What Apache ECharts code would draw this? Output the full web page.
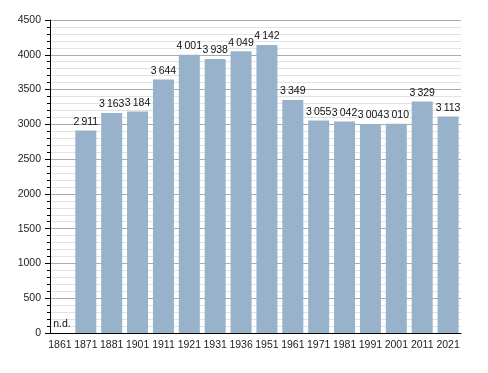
<!DOCTYPE html>
<html><head><meta charset="utf-8">
<script src="https://cdn.jsdelivr.net/npm/echarts@6/dist/echarts.min.js"></script>
<style>html,body{margin:0;padding:0;background:#fff}#c{width:488px;height:373px}</style>
</head><body><div id="c"></div>
<script>
const years = ['1861','1871','1881','1901','1911','1921','1931','1936','1951','1961','1971','1981','1991','2001','2011','2021'];
const population = [null,2911,3163,3184,3644,4001,3938,4049,4142,3349,3055,3042,3004,3010,3329,3113];
const yTicks = [0,500,1000,1500,2000,2500,3000,3500,4000,4500];

function fmt(v){ const s=String(v); return s.length>3 ? s.slice(0,s.length-3)+'\u2009'+s.slice(-3) : s; }

const chart = echarts.init(document.getElementById('c'), null, {renderer:'canvas'});
chart.setOption({
  animation:false,
  textStyle:{fontFamily:'Liberation Sans, Arial, sans-serif'},
  grid:{left:47,right:27,top:20,bottom:40},
  xAxis:{type:'category',data:years,
    axisLine:{lineStyle:{color:'#000',width:1}},
    axisTick:{show:false},
    axisLabel:{color:'#222',fontSize:10.5,margin:7,interval:0}},
  yAxis:{type:'value',min:yTicks[0],max:yTicks[yTicks.length-1],interval:500,offset:-3,
    axisLine:{show:true,lineStyle:{color:'#000'}},
    axisTick:{show:true,length:5,lineStyle:{color:'#000'}},
    minorTick:{show:true,splitNumber:5,length:3,lineStyle:{color:'#000'}},
    splitLine:{lineStyle:{color:'#aaaaaa'}},
    minorSplitLine:{show:true,lineStyle:{color:'#e2e2e2'}},
    axisLabel:{color:'#222',fontSize:10.5,margin:9,formatter:v=>String(v)}},
  series:[{type:'bar',barCategoryGap:'18.8%',
    itemStyle:{color:'#98b2cb'},
    label:{show:true,position:'top',color:'#111',fontSize:10.5,distance:3,
      formatter:p=>p.data.nd?'n.d.':fmt(p.value)},
    data:population.map(v=>v===null?{value:0,nd:true,label:{offset:[2,0]}}:{value:v})}]
});
</script></body></html>
